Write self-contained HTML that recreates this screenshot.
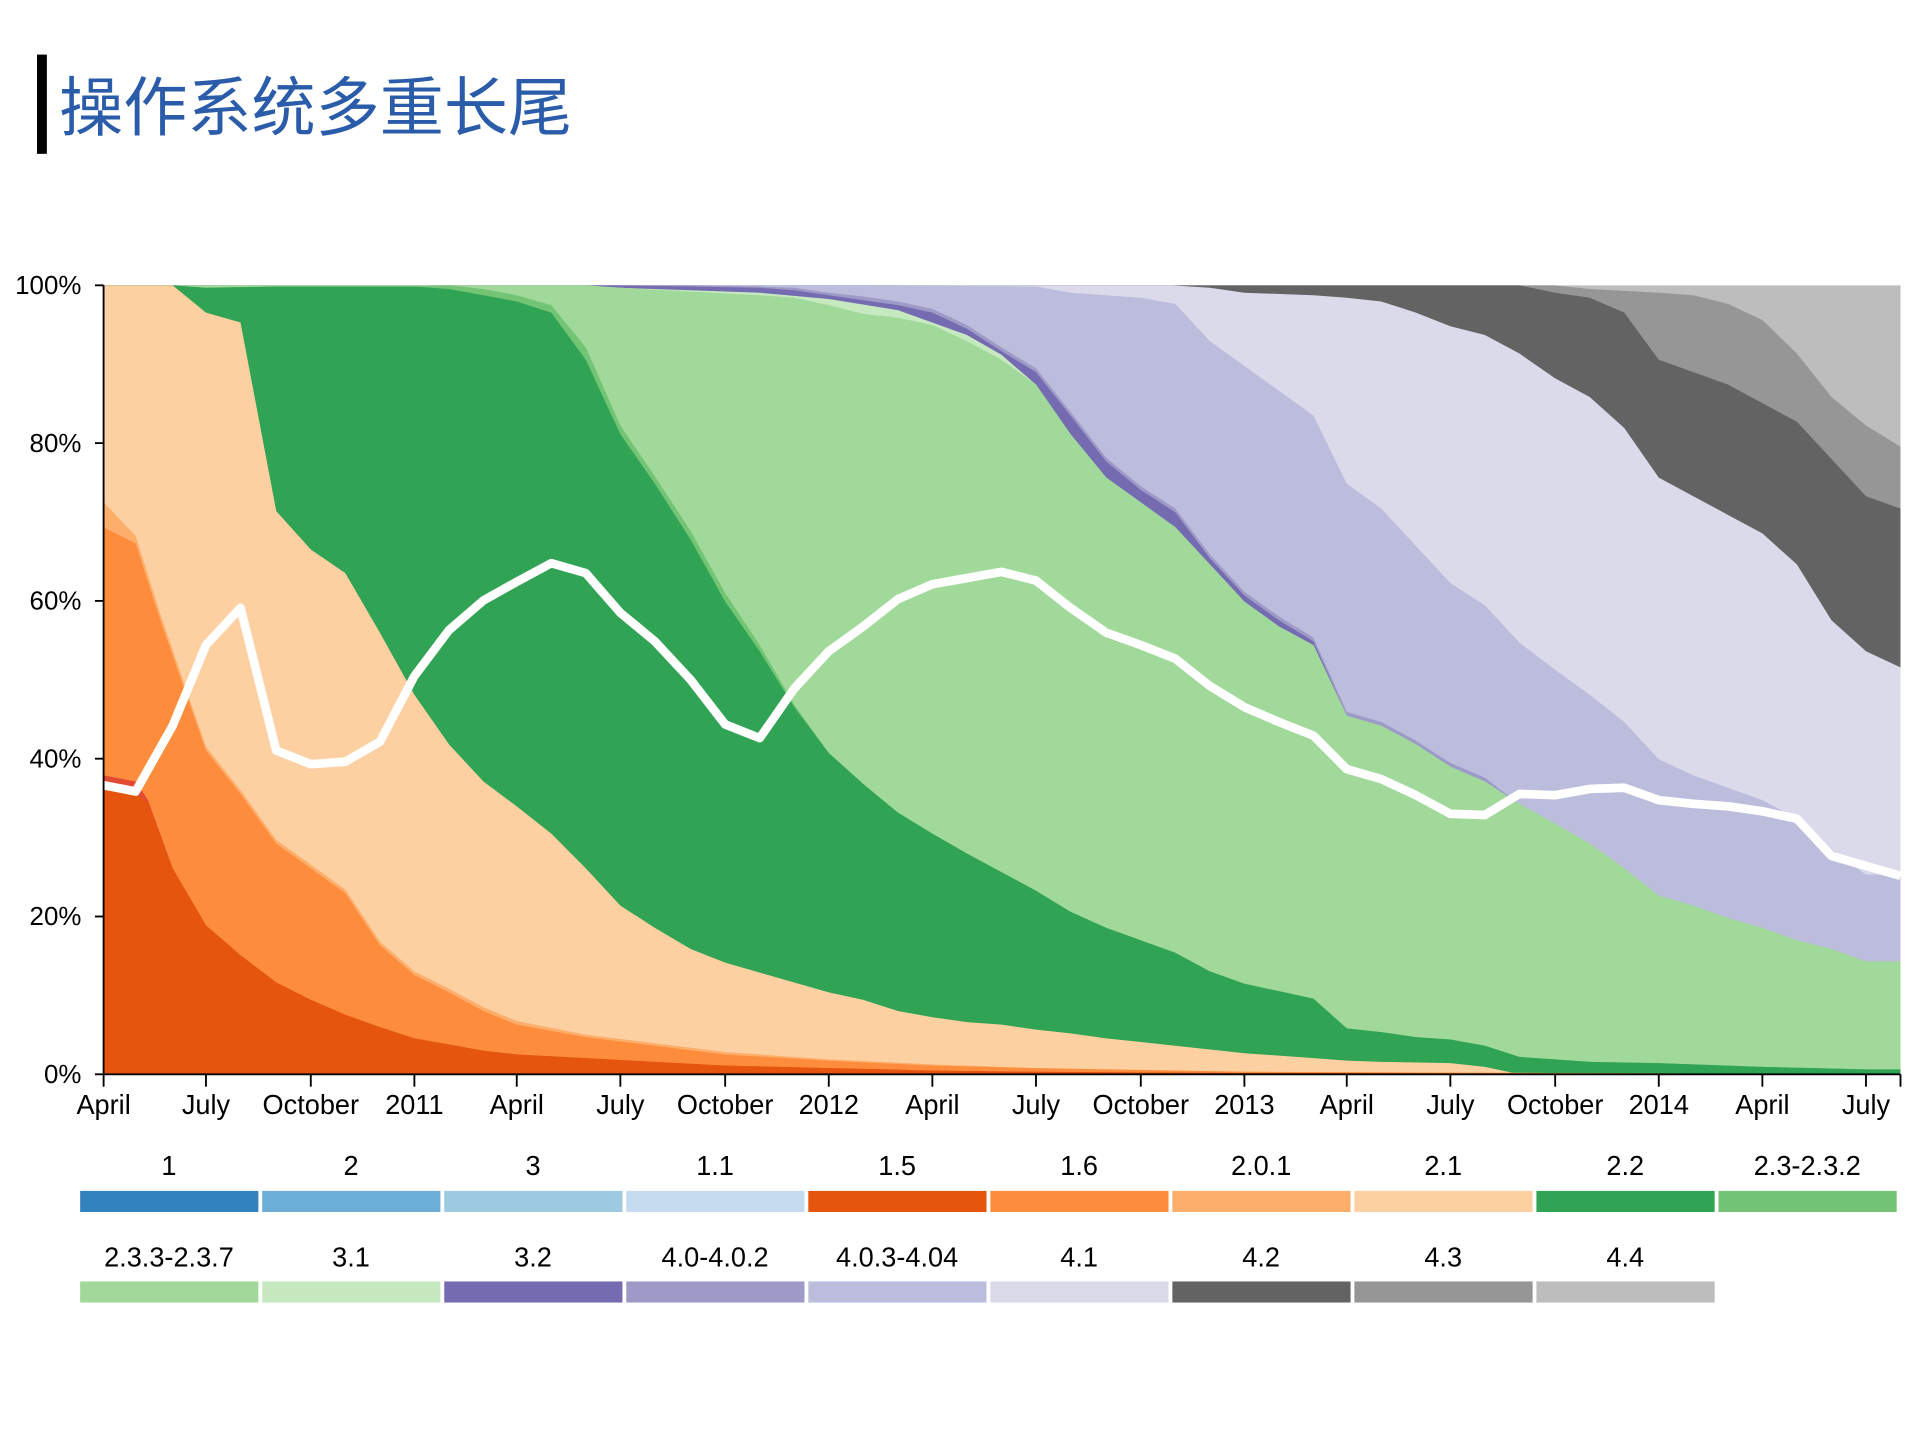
<!DOCTYPE html>
<html><head><meta charset="utf-8"><style>
html,body{margin:0;padding:0;background:#fff;}
svg{display:block;}
text{font-family:"Liberation Sans",Arial,sans-serif;}
</style></head><body>
<svg width="1919" height="1439" viewBox="0 0 1556 1160" preserveAspectRatio="none" xmlns="http://www.w3.org/2000/svg">
<rect width="1556" height="1160" fill="#fff"/>
<rect x="30" y="44" width="8" height="80" fill="#000"/>
<text x="48" y="105" font-size="52" fill="#2a5caa" style="font-family:'Liberation Sans','Noto Sans CJK SC',sans-serif">操作系统多重长尾</text>

<g id="areas"></g>
<polyline id="wl" fill="none" stroke="#fff" stroke-width="7" stroke-linejoin="round"/>
<g stroke="#000" stroke-width="1.5" fill="none">
<line x1="84" y1="230" x2="84" y2="866"/>
<line x1="84" y1="866" x2="1541" y2="866"/>
</g>
<g id="axes" font-size="21" fill="#000"></g>
<g id="legend" font-size="22" fill="#000"></g>
</svg>
<script>
var NS="http://www.w3.org/2000/svg";
function P(s){return s.trim().split(/\s+/).map(function(p){var a=p.split(':');return [+a[0],+a[1]];});}
var one="140:700 167:746 195:770 224:792 252:806 280:818 308:828 336:837 364:842 392:847 419:850 475:853 531:856 588:859 672:861 756:863 840:864 1009:865 1541:866";
var layers=[
["#bdbdbd","84:230 1541:230"],
["#969696","84:230 1261:230 1289:233 1345:236 1373:238 1401:245 1429:258 1457:285 1485:320 1513:343 1541:360"],
["#636363","84:230 1232:230 1261:236 1289:240 1317:252 1345:290 1373:300 1401:310 1429:325 1457:340 1485:370 1513:400 1541:410"],
["#dadaeb","84:230 950:230 981:232 1009:236 1065:238 1092:240 1120:243 1148:252 1176:263 1204:270 1232:285 1261:305 1289:320 1317:345 1345:385 1373:400 1401:415 1429:430 1457:455 1485:500 1513:525 1541:538"],
["#bcbddc","84:230 700:230 840:231 868:236 925:240 953:245 981:275 1009:295 1037:315 1065:335 1092:390 1120:410 1148:440 1176:470 1204:488 1232:518 1261:540 1289:560 1317:582 1345:612 1373:625 1401:635 1429:645 1457:660 1485:685 1513:705 1541:705"],
["#9e9ac8","84:230 500:230 560:230 616:231 644:232 672:236 700:239 728:243 756:249 784:262 812:280 840:297 868:332 897:369 925:392 953:410 981:447 1009:477 1037:497 1065:514 1092:574 1120:582 1148:597 1176:615 1204:627 1232:648 1261:664 1289:680 1317:700 1345:722 1373:730 1401:740 1429:748 1457:758 1485:765 1513:775 1541:775"],
["#756bb1","84:230 500:230 560:231 616:232 644:234 672:238 700:242 728:246 756:252 784:265 812:283 840:300 868:335 897:372 925:395 953:413 981:450 1009:480 1037:500 1065:517 1092:577 1120:585 1148:600 1176:618 1204:630 1232:648 1261:664 1289:680 1317:700 1345:722 1373:730 1401:740 1429:748 1457:758 1485:765 1513:775 1541:775"],
["#c7e9c0","84:230 475:230 503:232 560:234 616:236 672:241 728:250 784:270 812:286 840:310 868:350 897:385 925:405 953:425 981:455 1009:485 1037:505 1065:520 1092:577 1120:585 1148:600 1176:618 1204:630 1232:648 1261:664 1289:680 1317:700 1345:722 1373:730 1401:740 1429:748 1457:758 1485:765 1513:775 1541:775"],
["#a1d99b","84:230 475:230 503:232 560:235 616:238 644:240 672:246 700:253 728:256 756:262 784:275 812:290 840:310 868:350 897:385 925:405 953:425 981:455 1009:485 1037:505 1065:520 1092:577 1120:585 1148:600 1176:618 1204:630 1232:648 1261:664 1289:680 1317:700 1345:722 1373:730 1401:740 1429:748 1457:758 1485:765 1513:775 1541:775"],
["#74c476","84:230 140:230 167:232 224:231 336:231 364:230 392:233 419:238 447:246 475:280 503:343 531:384 560:428 588:478 616:520 644:568 672:607 700:632 728:655 756:672 784:688 812:703 840:718 868:735 897:748 925:758 953:768 981:783 1009:793 1037:799 1065:805 1092:829 1120:832 1148:836 1176:838 1204:843 1232:852 1261:854 1289:856 1345:857 1429:860 1513:862 1541:862"],
["#31a354","84:230 140:230 167:232 224:231 336:231 364:233 392:238 419:243 447:252 475:290 503:350 531:390 560:435 588:485 616:525 644:570 672:607 700:632 728:655 756:672 784:688 812:703 840:718 868:735 897:748 925:758 953:768 981:783 1009:793 1037:799 1065:805 1092:829 1120:832 1148:836 1176:838 1204:843 1232:852 1261:854 1289:856 1345:857 1429:860 1513:862 1541:862"],
["#fdd0a2","84:230 140:230 167:252 195:260 224:412 252:443 280:462 308:510 336:560 364:600 392:630 419:650 447:672 475:700 503:730 531:748 560:765 588:776 616:784 644:792 672:800 700:806 728:815 756:820 784:824 812:826 840:830 868:833 897:837 925:840 953:843 981:846 1009:849 1037:851 1065:853 1092:855 1120:856 1176:857 1204:860 1232:866 1541:866"],
["#fdae6b","84:405 110:432 130:495 167:602 195:637 224:677 252:697 280:717 308:759 336:783 364:797 392:812 419:823 475:834 531:841 588:848 672:854 756:858 840:861 1009:864 1541:866"],
["#fd8d3c","84:425 110:438 130:500 167:605 195:640 224:680 252:700 280:720 308:762 336:786 364:800 392:815 419:826 475:836 531:843 588:850 672:855 756:859 840:861 1009:864 1541:866"],
["#e34a33","84:625 110:630 120:645 "+one],
["#e6550d","84:637 110:640 120:647 "+one]
];
var g=document.getElementById('areas');
layers.forEach(function(l){
 var pts=P(l[1]);var s=pts.map(function(p){return p.join(',');}).join(' ');
 s+=' 1541,866 84,866';
 var e=document.createElementNS(NS,'polygon');e.setAttribute('points',s);e.setAttribute('fill',l[0]);g.appendChild(e);
});
document.getElementById('wl').setAttribute('points',P("84:633 110:638 140:585 167:520 195:490 224:605 252:616 280:614 308:598 336:545 364:508 392:484 419:469 447:454 475:462 503:494 531:517 560:548 588:584 616:595 644:555 672:525 700:505 728:483 756:471 784:466 812:461 840:468 868:490 897:510 925:520 953:531 981:553 1009:570 1037:582 1065:593 1092:620 1120:628 1148:641 1176:656 1204:657 1232:640 1261:641 1289:636 1317:635 1345:645 1373:648 1401:650 1429:654 1457:660 1485:690 1513:698 1541:706").map(function(p){return p.join(',');}).join(' '));
var ax=document.getElementById('axes');
function T(x,y,t,a,fs){var e=document.createElementNS(NS,'text');e.setAttribute('x',x);e.setAttribute('y',y);e.setAttribute('text-anchor',a);if(fs)e.setAttribute('font-size',fs);e.textContent=t;return e;}
function L(x1,y1,x2,y2,p){var e=document.createElementNS(NS,'line');e.setAttribute('x1',x1);e.setAttribute('y1',y1);e.setAttribute('x2',x2);e.setAttribute('y2',y2);e.setAttribute('stroke','#000');e.setAttribute('stroke-width','1.5');p.appendChild(e);}
for(var i=0;i<=5;i++){var y=866-i*127.2;L(77,y,84,y,ax);ax.appendChild(T(66,y+7,(i*20)+'%','end'));}
var xl=[[84,'April'],[167,'July'],[252,'October'],[336,'2011'],[419,'April'],[503,'July'],[588,'October'],[672,'2012'],[756,'April'],[840,'July'],[925,'October'],[1009,'2013'],[1092,'April'],[1176,'July'],[1261,'October'],[1345,'2014'],[1429,'April'],[1513,'July']];
xl.forEach(function(d){L(d[0],866,d[0],876,ax);ax.appendChild(T(d[0],898,d[1],'middle','22'));});
L(1541,866,1541,876,ax);
var lg=document.getElementById('legend');
var items=[["1","#3182bd"],["2","#6baed6"],["3","#9ecae1"],["1.1","#c6dbef"],["1.5","#e6550d"],["1.6","#fd8d3c"],["2.0.1","#fdae6b"],["2.1","#fdd0a2"],["2.2","#31a354"],["2.3-2.3.2","#74c476"],["2.3.3-2.3.7","#a1d99b"],["3.1","#c7e9c0"],["3.2","#756bb1"],["4.0-4.0.2","#9e9ac8"],["4.0.3-4.04","#bcbddc"],["4.1","#dadaeb"],["4.2","#636363"],["4.3","#969696"],["4.4","#bdbdbd"]];
items.forEach(function(d,i){var r=Math.floor(i/10),c=i%10;var x=65+c*147.6;var by=r?1033:960;var ty=r?1021:947;
 var e=document.createElementNS(NS,'rect');e.setAttribute('x',x);e.setAttribute('y',by);e.setAttribute('width',144.5);e.setAttribute('height',17);e.setAttribute('fill',d[1]);lg.appendChild(e);
 lg.appendChild(T(x+72,ty,d[0],'middle'));});
</script>
</body></html>
